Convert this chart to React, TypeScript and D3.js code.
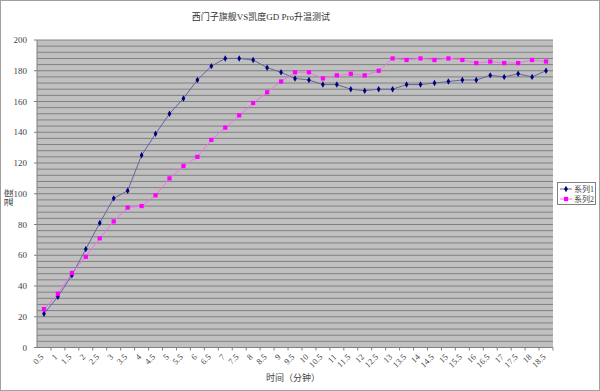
import React from "react";
import * as d3 from "d3";

const categories = ["0.5","1","1.5","2","2.5","3","3.5","4","4.5","5","5.5","6","6.5","7","7.5","8","8.5","9","9.5","10","10.5","11","11.5","12","12.5","13","13.5","14","14.5","15","15.5","16","16.5","17","17.5","18","18.5"];
const series1 = [22,33,47,64,81,97,102,125,139,152,162,174,183,188,188,187,182,179,175,174,171,171,168,167,168,168,171,171,172,173,174,174,177,176,178,176,180];
const series2 = [25,35,48.5,59,71,82,91,92,99,110,118,124,135,143,151,159,166,173,179,179,175,177,178,177,180,188,187,188,187,188,187,185,186,185,185,187,186];
const seriesNames = ["系列1", "系列2"];
const yTicks = [0,20,40,60,80,100,120,140,160,180,200];
const title = "西门子旗舰VS凯度GD Pro升温测试";
const xTitle = "时间（分钟）";
const yTitle = "温度";

const W = 600, H = 391;
const L = 37, R = 553, T = 40, B = 347.5;
const FONT = "'Liberation Serif', 'Noto Sans CJK SC', serif";

export default function App() {
  const x = d3.scaleBand<string>().domain(categories).range([L, R]).padding(0);
  const y = d3.scaleLinear().domain([0, 200]).range([B, T]);
  const cx = (c: string) => (x(c) as number) + x.bandwidth() / 2;
  const grid = d3.range(0, 201, 4);
  const line = d3.line<number>().x((_, i) => cx(categories[i])).y((v) => y(v));
  const diamond = d3.symbol().type(d3.symbolDiamond).size(12)() as string;
  const square = d3.symbol().type(d3.symbolSquare).size(18)() as string;
  const c1 = "#000080", c2 = "#ff00ff";
  const l1 = "#6464a0", l2 = "#f070f0";
  return (
    <svg width={W} height={H} style={{ position: "absolute", left: 0, top: 0, background: "#fff" }} fontFamily={FONT}>
      <rect x={0.5} y={0.5} width={W - 1} height={H - 1} fill="#fff" stroke="#a0a0a0" />
      <text x={261} y={20} textAnchor="middle" fontSize={9} fill="#333">{title}</text>
      <rect x={L} y={T} width={R - L} height={B - T} fill="#c0c0c0" />
      {grid.map((g) => (
        <line key={g} x1={L} x2={R} y1={y(g)} y2={y(g)} stroke="#808080" strokeWidth={1} />
      ))}
      <line x1={L} x2={L} y1={T} y2={B} stroke="#808080" />
      <line x1={L} x2={R} y1={B} y2={B} stroke="#808080" />
      {yTicks.map((t) => (
        <g key={t}>
          <line x1={L - 3} x2={L} y1={y(t)} y2={y(t)} stroke="#808080" />
          <text x={27} y={y(t)} dy="0.35em" textAnchor="end" fontSize={9} fill="#444">{t}</text>
        </g>
      ))}
      {categories.map((c) => (
        <g key={c}>
          <line x1={(x(c) as number) + x.bandwidth()} x2={(x(c) as number) + x.bandwidth()} y1={B} y2={B + 3} stroke="#808080" />
          <text transform={`translate(${cx(c) - 2},${B + 8}) rotate(-45)`} dy="0.35em" textAnchor="end" fontSize={8.5} fill="#444">{c}</text>
        </g>
      ))}
      <path d={line(series1) as string} fill="none" stroke={l1} strokeWidth={1} />
      <path d={line(series2) as string} fill="none" stroke={l2} strokeWidth={1} />
      {series1.map((v, i) => (
        <path key={"a" + i} d={diamond} transform={`translate(${cx(categories[i])},${y(v)})`} fill={c1} />
      ))}
      {series2.map((v, i) => (
        <path key={"b" + i} d={square} transform={`translate(${cx(categories[i])},${y(v)})`} fill={c2} />
      ))}
      <text x={293} y={381} textAnchor="middle" fontSize={9} fill="#444">{xTitle}</text>
      <text transform={`translate(12,${(T + B) / 2 + 4}) rotate(-90)`} textAnchor="middle" fontSize={9} fill="#444">{yTitle}</text>
      <rect x={557.5} y={182.5} width={38} height={22} fill="#fff" stroke="#808080" />
      {seriesNames.map((n, i) => {
        const yy = 189 + i * 10;
        return (
          <g key={n}>
            <line x1={560} x2={572} y1={yy} y2={yy} stroke={i === 0 ? l1 : l2} />
            <path d={i === 0 ? diamond : square} transform={`translate(566,${yy})`} fill={i === 0 ? c1 : c2} />
            <text x={574} y={yy} dy="0.35em" fontSize={8} fill="#444">{n}</text>
          </g>
        );
      })}
    </svg>
  );
}
